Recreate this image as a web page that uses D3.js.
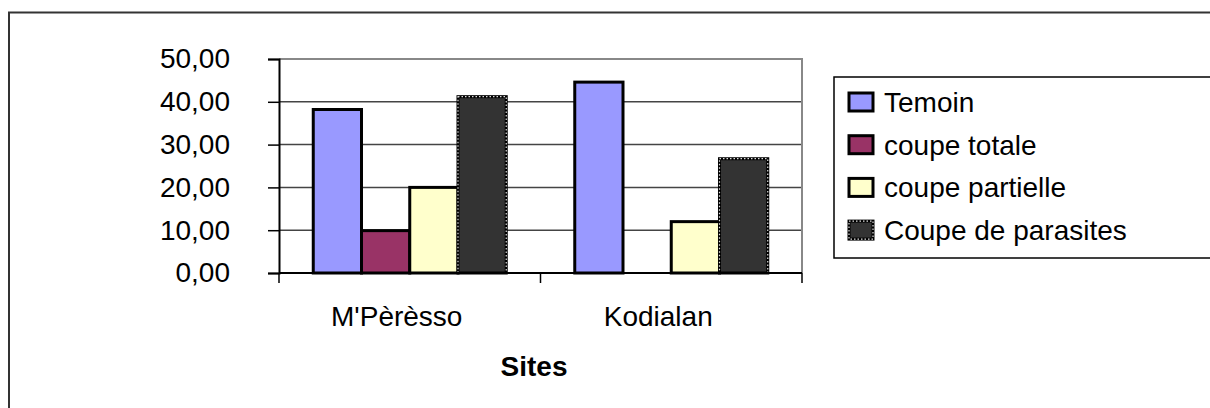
<!DOCTYPE html>
<html>
<head>
<meta charset="utf-8">
<script src="https://cdn.jsdelivr.net/npm/d3@7"></script>
<style>
  body { margin: 0; background: #fff; }
  svg { display: block; font-family: "Liberation Sans", Arial, sans-serif; }
</style>
</head>
<body>
<div id="chart"></div>
<script>
    var width = 1210,
        height = 408;

    // data
    var sites = ["M'Pèrèsso", "Kodialan"];
    var series = ["Temoin", "coupe totale", "coupe partielle", "Coupe de parasites"];
    var temoin = [38.2, 44.6];
    var coupeTotale = [9.9, 0];
    var coupePartielle = [20.0, 12.0];
    var coupeParasites = [41.2, 26.7];
    var yTicks = [0, 10, 20, 30, 40, 50];

    var colors = ["#9999ff", "#993366", "#ffffcc", "#333333"];
    var values = [temoin, coupeTotale, coupePartielle, coupeParasites];

    var fr = d3.formatLocale({ decimal: ",", thousands: " ", grouping: [3], currency: ["", ""] });
    var fmt = fr.format(".2f");

    var svg = d3.select("#chart").append("svg")
        .attr("width", width)
        .attr("height", height);

    // outer chart frame (cropped on right / bottom)
    svg.append("rect")
        .attr("x", 9).attr("y", 12.5)
        .attr("width", 1400).attr("height", 600)
        .attr("fill", "none")
        .attr("stroke", "#333").attr("stroke-width", 2);

    var plot = { left: 279, right: 802, top: 59, bottom: 273 };

    var x0 = d3.scaleBand().domain(sites).range([plot.left, plot.right]);
    var x1 = d3.scaleBand().domain(series).range([0, x0.bandwidth()])
        .paddingInner(0).paddingOuter(0.71);
    var y = d3.scaleLinear().domain([0, 50]).range([plot.bottom, plot.top]);

    // gridlines
    svg.append("g").selectAll("line")
        .data(yTicks.slice(1, -1))
        .enter().append("line")
        .attr("x1", plot.left).attr("x2", plot.right)
        .attr("y1", function(d) { return y(d); })
        .attr("y2", function(d) { return y(d); })
        .attr("stroke", "#444").attr("stroke-width", 1.5);

    // plot area border top/right
    svg.append("path")
        .attr("d", "M" + plot.left + "," + plot.top + "H" + plot.right + "V" + plot.bottom)
        .attr("fill", "none").attr("stroke", "#888").attr("stroke-width", 2);

    // bars
    var groups = svg.append("g").selectAll("g")
        .data(sites)
        .enter().append("g")
        .attr("transform", function(d) { return "translate(" + x0(d) + ",0)"; });

    groups.selectAll("rect")
        .data(function(d, i) {
            return series.map(function(s, j) { return { s: s, j: j, v: values[j][i] }; });
        })
        .enter().append("rect")
        .filter(function(d) { return d.v > 0; })
        .attr("x", function(d) { return x1(d.s); })
        .attr("y", function(d) { return y(d.v); })
        .attr("width", x1.bandwidth())
        .attr("height", function(d) { return y(0) - y(d.v); })
        .attr("fill", function(d) { return colors[d.j]; })
        .attr("stroke", "#000").attr("stroke-width", 3);

    // dotted edge on the parasites bars
    groups.selectAll("rect.dots")
        .data(function(d, i) { return [{ s: series[3], v: coupeParasites[i] }]; })
        .enter().append("rect")
        .attr("class", "dots")
        .attr("x", function(d) { return x1(d.s); })
        .attr("y", function(d) { return y(d.v); })
        .attr("width", x1.bandwidth())
        .attr("height", function(d) { return y(0) - y(d.v); })
        .attr("fill", "none")
        .attr("stroke", "#ddd").attr("stroke-width", 1.2)
        .attr("stroke-dasharray", "1.5,2");

    // y axis
    var yAxis = d3.axisLeft(y).tickValues(yTicks).tickSize(11).tickPadding(38)
        .tickFormat(function(d) { return fmt(d); });
    var gy = svg.append("g")
        .attr("transform", "translate(" + plot.left + ",0)")
        .call(yAxis);
    gy.select(".domain").attr("stroke", "#000").attr("stroke-width", 2);
    gy.selectAll(".tick line").attr("stroke", "#000").attr("stroke-width", 1.5);
    gy.selectAll(".tick text")
        .attr("font-size", 28).attr("fill", "#000")
        .attr("font-family", "Liberation Sans, Arial, sans-serif");

    // x axis
    var gx = svg.append("g").attr("transform", "translate(0," + plot.bottom + ")");
    gx.append("line")
        .attr("x1", plot.left).attr("x2", plot.right)
        .attr("stroke", "#000").attr("stroke-width", 2);
    gx.selectAll("line.tk")
        .data(sites.map(function(s) { return x0(s); }).concat([plot.right]))
        .enter().append("line")
        .attr("class", "tk")
        .attr("x1", function(d) { return d; }).attr("x2", function(d) { return d; })
        .attr("y1", 0).attr("y2", 10)
        .attr("stroke", "#000").attr("stroke-width", 1.5);
    gx.selectAll("text")
        .data(sites)
        .enter().append("text")
        .attr("x", function(d) { return x0(d) + x0.bandwidth() / 2 - 13; })
        .attr("y", 53)
        .attr("text-anchor", "middle")
        .attr("font-size", 28)
        .text(function(d) { return d; });

    svg.append("text")
        .attr("x", 534).attr("y", 376)
        .attr("text-anchor", "middle")
        .attr("font-size", 28).attr("font-weight", "bold")
        .text("Sites");

    // legend
    var legend = svg.append("g");
    legend.append("rect")
        .attr("x", 834).attr("y", 77)
        .attr("width", 500).attr("height", 181)
        .attr("fill", "#fff").attr("stroke", "#000").attr("stroke-width", 1.5);

    var items = legend.selectAll("g.item")
        .data(series)
        .enter().append("g")
        .attr("class", "item")
        .attr("transform", function(d, i) { return "translate(849," + (102 + i * 42.7) + ")"; });

    items.append("rect")
        .attr("x", 0).attr("y", -9)
        .attr("width", 24).attr("height", 18)
        .attr("fill", function(d, i) { return colors[i]; })
        .attr("stroke", "#000").attr("stroke-width", 3);

    items.filter(function(d, i) { return i === 3; }).append("rect")
        .attr("x", 0).attr("y", -9)
        .attr("width", 24).attr("height", 18)
        .attr("fill", "none")
        .attr("stroke", "#ddd").attr("stroke-width", 1.2)
        .attr("stroke-dasharray", "1.5,2");

    items.append("text")
        .attr("x", 35).attr("y", 10)
        .attr("font-size", 28)
        .text(function(d) { return d; });
</script>
</body>
</html>
